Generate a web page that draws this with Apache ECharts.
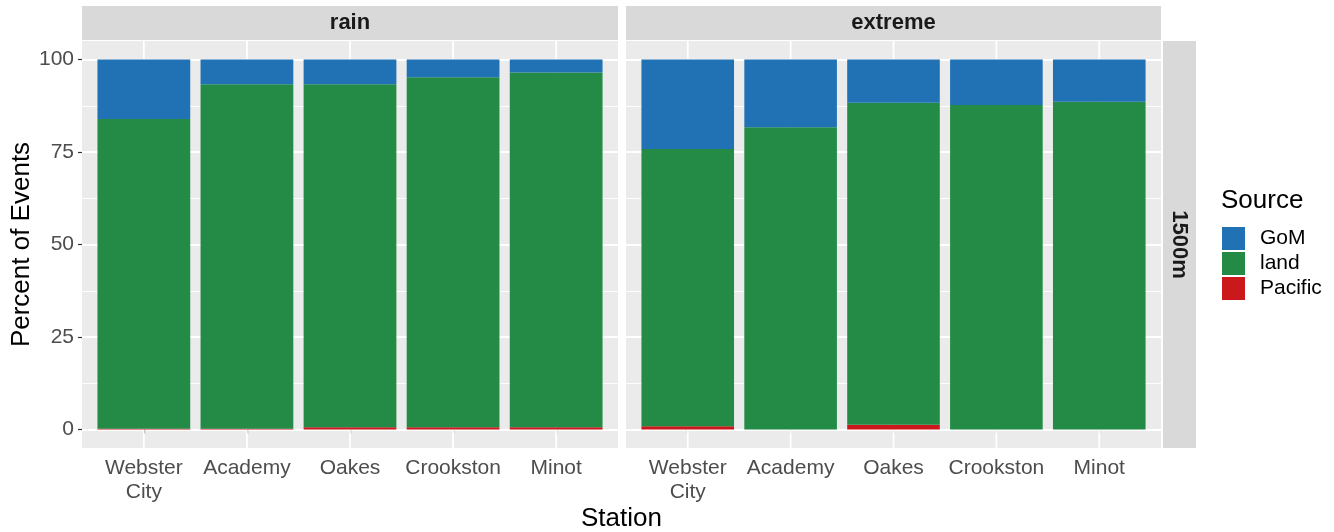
<!DOCTYPE html>
<html>
<head>
<meta charset="utf-8">
<script src="https://cdn.jsdelivr.net/npm/echarts@6/dist/echarts.min.js"></script>
<style>
  html, body { margin: 0; padding: 0; background: #fff; }
  #chart { width: 1334px; height: 532px; }
</style>
</head>
<body>
<div id="chart"></div>
<script>
// ---- data -------------------------------------------------------------
const stations = ['Webster\nCity', 'Academy', 'Oakes', 'Crookston', 'Minot'];
const facets = ['rain', 'extreme'];
const heightLabel = '1500m';
const sources = ['GoM', 'land', 'Pacific'];

// percent of events by moisture source, per station
const rainPacific = [0.2, 0.2, 0.6, 0.6, 0.6];
const rainLand    = [83.7, 93.1, 92.7, 94.6, 95.9];
const rainGoM     = [16.1, 6.7, 6.7, 4.8, 3.5];

const extremePacific = [0.9, 0.0, 1.3, 0.0, 0.0];
const extremeLand    = [74.9, 81.7, 87.0, 87.7, 88.6];
const extremeGoM     = [24.2, 18.3, 11.7, 12.3, 11.4];

const yTicks = [0, 25, 50, 75, 100];

// ---- layout / style ----------------------------------------------------
const FONT = 'Liberation Sans, Arial, Helvetica, sans-serif';
const colors = { GoM: '#2171B5', land: '#238B45', Pacific: '#CB181D' };
const PANEL_BG = '#EBEBEB';
const STRIP_BG = '#D9D9D9';
const PANEL_TOP = 41, PANEL_H = 407;
const Y_MIN = -5, Y_MAX = 105;           // 5% padding around 0..100
const panels = [{ left: 82, width: 536 }, { left: 626, width: 535 }];
const facetValues = [
  { Pacific: rainPacific, land: rainLand, GoM: rainGoM },
  { Pacific: extremePacific, land: extremeLand, GoM: extremeGoM }
];

const span = Y_MAX - Y_MIN;
const lineGridTop = PANEL_TOP + PANEL_H * (Y_MAX - yTicks[yTicks.length - 1]) / span;
const lineGridH = PANEL_H * (yTicks[yTicks.length - 1] - yTicks[0]) / span;

const grids = [], xAxes = [], yAxes = [], series = [], graphics = [];

panels.forEach((p, i) => {
  const unit = p.width / (stations.length + 0.2);
  // grid for horizontal guide lines (0..100)
  grids.push({ left: p.left, width: p.width, top: lineGridTop, height: lineGridH, containLabel: false });
  // grid for bars (-5..105), inset so each band is centred on its station
  grids.push({ left: p.left + unit * 0.1, width: unit * stations.length, top: PANEL_TOP, height: PANEL_H, containLabel: false });

  const gLines = i * 2, gBars = i * 2 + 1;

  xAxes.push({ gridIndex: gLines, type: 'value', min: 0, max: 1, show: false });
  yAxes.push({
    gridIndex: gLines, type: 'value', min: yTicks[0], max: yTicks[yTicks.length - 1], interval: 25,
    axisLine: { show: false },
    axisTick: { show: i === 0, length: 4, lineStyle: { color: '#333333', width: 1.2 } },
    axisLabel: { show: i === 0, fontSize: 21, color: '#4D4D4D', fontFamily: FONT, margin: 8 },
    splitLine: { show: true, lineStyle: { color: '#FFFFFF', width: 1.8 } },
    minorTick: { show: false, splitNumber: 2 },
    minorSplitLine: { show: true, lineStyle: { color: '#FFFFFF', width: 0.9 } },
    name: i === 0 ? 'Percent of Events' : '',
    nameLocation: 'middle', nameGap: 45, nameRotate: 90,
    nameTextStyle: { fontSize: 26, color: '#000000', fontFamily: FONT }
  });

  xAxes.push({
    gridIndex: gBars, type: 'category', data: stations,
    axisLine: { show: false },
    axisTick: { show: true, alignWithLabel: true, length: 4, lineStyle: { color: '#333333', width: 1.2 } },
    axisLabel: { fontSize: 21, color: '#4D4D4D', fontFamily: FONT, lineHeight: 24, margin: 8, interval: 0 },
    splitLine: { show: false }
  });
  yAxes.push({ gridIndex: gBars, type: 'value', min: Y_MIN, max: Y_MAX, show: false, splitLine: { show: false } });

  // vertical guide lines at each station
  series.push({
    type: 'custom', xAxisIndex: gBars, yAxisIndex: gBars, z: 1, silent: true,
    data: stations.map((s, k) => [k, 0]),
    renderItem: (params, api) => {
      const k = api.value(0);
      const a = api.coord([k, Y_MAX]);
      const b = api.coord([k, Y_MIN]);
      return { type: 'line', shape: { x1: a[0], y1: a[1], x2: b[0], y2: b[1] },
               style: { stroke: '#FFFFFF', lineWidth: 1.8 } };
    }
  });

  // stacked bars: Pacific at the base, then land, then GoM
  ['Pacific', 'land', 'GoM'].forEach(src => {
    series.push({
      name: src, type: 'bar', stack: 'facet' + i,
      xAxisIndex: gBars, yAxisIndex: gBars, z: 2,
      barCategoryGap: '10%',
      itemStyle: { color: colors[src] },
      data: facetValues[i][src]
    });
  });

  // panel background and facet strip
  graphics.push({ type: 'rect', z: -10, silent: true,
    shape: { x: p.left, y: PANEL_TOP, width: p.width, height: PANEL_H }, style: { fill: PANEL_BG } });
  graphics.push({ type: 'rect', z: -10, silent: true,
    shape: { x: p.left, y: 6, width: p.width, height: 34 }, style: { fill: STRIP_BG } });
  graphics.push({ type: 'text', z: 5, silent: true, x: p.left + p.width / 2, y: 23,
    style: { text: facets[i], fontSize: 22, fontWeight: 'bold', fill: '#1A1A1A', fontFamily: FONT,
             align: 'center', verticalAlign: 'middle' } });
});

// right-hand strip for the height level
graphics.push({ type: 'rect', z: -10, silent: true,
  shape: { x: 1163, y: PANEL_TOP, width: 33, height: PANEL_H }, style: { fill: STRIP_BG } });
graphics.push({ type: 'text', z: 5, silent: true, x: 1179.5, y: PANEL_TOP + PANEL_H / 2, rotation: -Math.PI / 2,
  style: { text: heightLabel, fontSize: 22, fontWeight: 'bold', fill: '#1A1A1A', fontFamily: FONT,
           align: 'center', verticalAlign: 'middle' } });

// x axis title and legend title
graphics.push({ type: 'text', z: 5, silent: true, x: (panels[0].left + panels[1].left + panels[1].width) / 2, y: 519,
  style: { text: 'Station', fontSize: 26, fill: '#000000', fontFamily: FONT, align: 'center', verticalAlign: 'middle' } });
graphics.push({ type: 'text', z: 5, silent: true, x: 1221, y: 201,
  style: { text: 'Source', fontSize: 26, fill: '#000000', fontFamily: FONT, align: 'left', verticalAlign: 'middle' } });

const chart = echarts.init(document.getElementById('chart'), null, { renderer: 'canvas' });
chart.setOption({
  animation: false,
  backgroundColor: '#FFFFFF',
  grid: grids,
  xAxis: xAxes,
  yAxis: yAxes,
  legend: {
    data: sources, orient: 'vertical', left: 1222, top: 227, padding: 0,
    icon: 'rect', itemWidth: 23, itemHeight: 23, itemGap: 2,
    selectedMode: false,
    textStyle: { fontSize: 21, color: '#000000', fontFamily: FONT, padding: [0, 0, 0, 10] }
  },
  graphic: { elements: graphics },
  series: series
});
</script>
</body>
</html>
